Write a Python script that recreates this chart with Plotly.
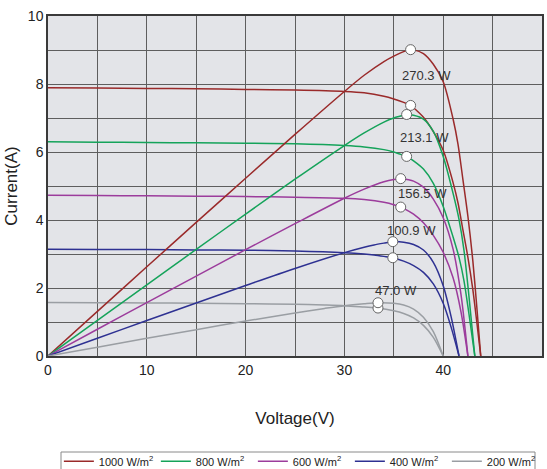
import plotly.graph_objects as go

# ---------------- data ----------------
irradiance_labels = ["1000 W/m<sup>2</sup>", "800 W/m<sup>2</sup>", "600 W/m<sup>2</sup>",
                     "400 W/m<sup>2</sup>", "200 W/m<sup>2</sup>"]
colors = ["#9a2a2a", "#15a35a", "#9c3c9c", "#2e3192", "#9a9ea3"]

v_1000 = [0, 5, 10, 15, 20, 25, 30, 32, 34, 35, 36, 36.7, 37, 38, 39, 40, 41, 41.5, 42, 42.5, 43, 43.4, 43.8]
i_1000 = [7.89, 7.88, 7.87, 7.86, 7.84, 7.82, 7.78, 7.74, 7.64, 7.56, 7.46, 7.37, 7.30, 7.02, 6.60, 6.05, 5.10, 4.50, 3.70, 2.90, 1.95, 1.00, 0]
p_1000 = [0, 39.4, 78.7, 117.9, 156.8, 195.5, 233.4, 247.7, 259.8, 264.6, 268.6, 270.3, 270.1, 266.8, 257.4, 242.0, 209.1, 186.8, 155.4, 123.3, 83.9, 43.4, 0]

v_800 = [0, 5, 10, 15, 20, 25, 30, 32, 34, 35, 36, 36.3, 37, 38, 39, 40, 41, 41.6, 42.1, 42.6, 43.2]
i_800 = [6.30, 6.29, 6.28, 6.27, 6.26, 6.24, 6.19, 6.15, 6.07, 6.00, 5.90, 5.87, 5.74, 5.50, 5.08, 4.40, 3.50, 2.90, 2.22, 1.25, 0]
p_800 = [0, 31.45, 62.8, 94.05, 125.2, 156.0, 185.7, 196.8, 206.4, 210.0, 212.4, 213.1, 212.4, 209.0, 198.1, 176.0, 143.5, 120.6, 93.5, 53.3, 0]

v_600 = [0, 5, 10, 15, 20, 25, 30, 32, 34, 35, 35.7, 36.5, 37, 38, 39, 40, 41, 41.8, 42.5]
i_600 = [4.73, 4.72, 4.71, 4.70, 4.69, 4.67, 4.64, 4.60, 4.52, 4.45, 4.38, 4.26, 4.17, 3.92, 3.55, 3.05, 2.30, 1.30, 0]
p_600 = [0, 23.6, 47.1, 70.5, 93.8, 116.75, 139.2, 147.2, 153.7, 155.75, 156.5, 155.5, 154.3, 149.0, 138.45, 122.0, 94.3, 54.3, 0]

v_400 = [0, 5, 10, 15, 20, 25, 30, 32, 33, 34, 34.9, 36, 37, 38, 39, 40, 40.8, 41.6]
i_400 = [3.14, 3.135, 3.13, 3.12, 3.11, 3.09, 3.04, 3.00, 2.97, 2.93, 2.89, 2.79, 2.66, 2.46, 2.12, 1.55, 0.85, 0]
p_400 = [0, 15.7, 31.3, 46.8, 62.2, 77.25, 91.2, 96.0, 98.0, 99.6, 100.9, 100.4, 98.4, 93.5, 82.7, 62.0, 34.7, 0]

v_200 = [0, 5, 10, 15, 20, 25, 28, 30, 32, 33.4, 35, 36, 37, 38, 39, 40]
i_200 = [1.57, 1.565, 1.56, 1.55, 1.54, 1.52, 1.50, 1.48, 1.44, 1.41, 1.33, 1.25, 1.12, 0.90, 0.55, 0]
p_200 = [0, 7.8, 15.6, 23.25, 30.8, 38.0, 42.0, 44.4, 46.1, 47.0, 46.55, 45.0, 41.4, 34.2, 21.45, 0]

mpp_v = [36.7, 36.3, 35.7, 34.9, 33.4]
mpp_i = [7.37, 5.87, 4.38, 2.89, 1.41]
mpp_p = [270.3, 213.1, 156.5, 100.9, 47.0]
mpp_labels = ["270.3 W", "213.1 W", "156.5 W", "100.9 W", "47.0 W"]
label_v = [38.3, 38.1, 37.9, 36.8, 35.25]
label_i = [8.24, 6.43, 4.77, 3.68, 1.94]

x_ticks = [0, 10, 20, 30, 40, 50]
y_ticks = [0, 2, 4, 6, 8, 10]

series = [(v_1000, i_1000, p_1000), (v_800, i_800, p_800), (v_600, i_600, p_600),
          (v_400, i_400, p_400), (v_200, i_200, p_200)]

# ---------------- figure ----------------
fig = go.Figure()
FONT = "Liberation Sans, Arial, sans-serif"

for k, (v, i, p) in enumerate(series):
    fig.add_trace(go.Scatter(
        x=v, y=i, mode="lines", name=irradiance_labels[k], legendgroup=str(k),
        line=dict(color=colors[k], width=1.5, shape="spline", smoothing=0.8),
        hoverinfo="skip"))
    fig.add_trace(go.Scatter(
        x=v, y=p, mode="lines", yaxis="y2", showlegend=False, legendgroup=str(k),
        line=dict(color=colors[k], width=1.5, shape="spline", smoothing=0.8),
        hoverinfo="skip"))

marker_style = dict(size=10, color="white", line=dict(color="#666666", width=1))
fig.add_trace(go.Scatter(x=mpp_v, y=mpp_i, mode="markers", marker=marker_style,
                         showlegend=False, hoverinfo="skip"))
fig.add_trace(go.Scatter(x=mpp_v, y=mpp_p, mode="markers", marker=marker_style,
                         yaxis="y2", showlegend=False, hoverinfo="skip"))

for k in range(len(mpp_labels)):
    fig.add_annotation(x=label_v[k], y=label_i[k], xref="x", yref="y",
                       text=mpp_labels[k], showarrow=False,
                       font=dict(family=FONT, size=13, color="#333333"))

# legend frame (box partly below the page edge, as in the reference)
fig.add_shape(type="rect", xref="paper", yref="paper",
              x0=(61 - 48) / 494, x1=(535 - 48) / 494,
              y0=(356 - 480) / 340, y1=(356 - 452) / 340,
              line=dict(color="#8a8a8a", width=1), fillcolor="rgba(0,0,0,0)", layer="above")

grid_c = "#5e5e5e"
fig.update_layout(
    width=547, height=469,
    margin=dict(l=48, r=5, t=16, b=113, autoexpand=False),
    paper_bgcolor="white", plot_bgcolor="#e3e4e8",
    font=dict(family=FONT, size=14, color="#222222"),
    xaxis=dict(range=[0, 50], tickvals=x_ticks, ticktext=[str(t) for t in x_ticks],
               showgrid=True, gridcolor=grid_c, gridwidth=1, automargin=False,
               minor=dict(dtick=5, showgrid=True, gridcolor=grid_c, gridwidth=1),
               showline=True, linecolor="#3a3a3a", linewidth=1.5, mirror=True,
               zeroline=False, ticks="", tickfont=dict(size=14, color="#222222"),
               title=dict(text="Voltage(V)", font=dict(size=17, color="#222222"), standoff=36)),
    yaxis=dict(range=[0, 10], tickvals=y_ticks, ticktext=[str(t) for t in y_ticks],
               showgrid=True, gridcolor=grid_c, gridwidth=1, automargin=False,
               minor=dict(dtick=1, showgrid=True, gridcolor=grid_c, gridwidth=1),
               showline=True, linecolor="#3a3a3a", linewidth=1.5, mirror=True,
               zeroline=False, ticks="", tickfont=dict(size=14, color="#222222"),
               title=dict(text="Current(A)", font=dict(size=17, color="#222222"), standoff=6)),
    yaxis2=dict(range=[0, 300], overlaying="y", visible=False),
    legend=dict(orientation="h", x=0.022, xanchor="left", y=-0.267, yanchor="top",
                borderwidth=0, bgcolor="rgba(0,0,0,0)",
                font=dict(size=11, color="#222222"), entrywidth=52, entrywidthmode="pixels",
                itemwidth=30, tracegroupgap=0),
    showlegend=True,
)

fig.write_html("out.html", config={"displayModeBar": False},
               post_script="document.body.style.margin='0';document.body.style.overflow='hidden';")
